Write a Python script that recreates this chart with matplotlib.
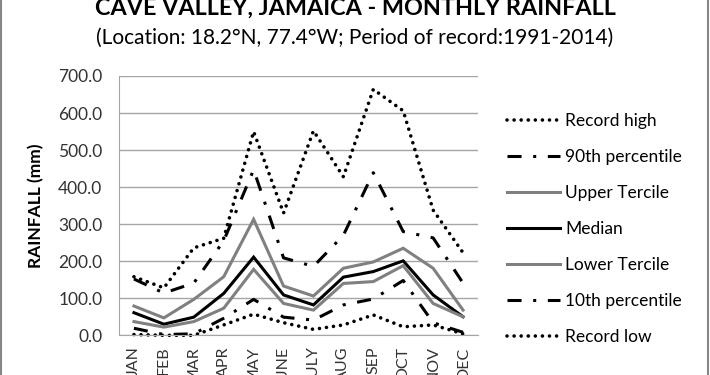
import matplotlib
matplotlib.use("Agg")
import matplotlib.pyplot as plt
from matplotlib.lines import Line2D

plt.rcParams['font.family'] = ['Lato', 'DejaVu Sans']

months = ["JAN", "FEB", "MAR", "APR", "MAY", "JUNE", "JULY", "AUG", "SEP", "OCT", "NOV", "DEC"]
record_high = [158, 128, 236, 262, 550, 330, 552, 428, 664, 606, 338, 223]
p90 = [152, 114, 141, 255, 447, 209, 186, 270, 439, 280, 263, 141]
upper_tercile = [79, 47, 97, 158, 313, 133, 106, 181, 198, 235, 181, 68]
median = [61, 30, 49, 113, 211, 109, 82, 157, 172, 201, 109, 50]
lower_tercile = [37, 22, 37, 73, 178, 86, 68, 140, 145, 188, 86, 50]
p10 = [19, 2, 4, 46, 97, 49, 41, 82, 98, 148, 34, 8]
record_low = [2, 0, 0, 28, 57, 34, 16, 28, 55, 23, 28, 4]
yticks = [0, 100, 200, 300, 400, 500, 600, 700]

W, H = 710, 375
fig = plt.figure(figsize=(W / 100, H / 100), dpi=100)
ax = fig.add_axes([119 / W, 1 - 335.3 / H, (478 - 119) / W, (335.3 - 76) / H])

gray = "#808080"
dotted = (0, (0.01, 1.95))
dashdot = (0, (4.6, 3.8, 1.0, 3.8))

series = [
    (record_high, "Record high", "black", dotted, "round", 2.6),
    (p90, "90th percentile", "black", dashdot, "butt", 2.2),
    (upper_tercile, "Upper Tercile", gray, "-", "butt", 2.2),
    (median, "Median", "black", "-", "butt", 2.2),
    (lower_tercile, "Lower Tercile", gray, "-", "butt", 2.2),
    (p10, "10th percentile", "black", dashdot, "butt", 2.2),
    (record_low, "Record low", "black", dotted, "round", 2.6),
]
x = list(range(len(months)))
handles = []
for vals, label, col, ls, cap, lw in series:
    ln, = ax.plot(x, vals, color=col, lw=lw, linestyle=ls, label=label,
                  dash_capstyle=cap, solid_joinstyle="miter", clip_on=False)
    handles.append(ln)

fs = 12.5
ax.set_xlim(-0.5, len(months) - 0.5)
ax.set_ylim(0, 700)
ax.set_yticks(yticks)
ax.set_yticklabels([f"{v:.1f}" for v in yticks], fontsize=fs, color="#333333")
ax.set_xticks(x)
ax.set_xticklabels(months, rotation=90, fontsize=11.5, color="#333333", va="top")
ax.tick_params(axis="y", length=0, pad=12)
ax.tick_params(axis="x", length=0, pad=8)
ax.yaxis.grid(True, color="#a6a6a6", lw=1)
ax.set_axisbelow(True)
for s in ["top", "right"]:
    ax.spines[s].set_visible(False)
ax.spines["left"].set_color("#a6a6a6")
ax.spines["bottom"].set_color("#a6a6a6")
ax.set_ylabel("RAINFALL (mm)", fontsize=fs, fontweight="bold", labelpad=10)

fig.legend(handles=handles, loc="upper left", bbox_to_anchor=(500 / W, 1 - 106 / H),
           frameon=False, fontsize=fs, handlelength=3.05, handletextpad=0.3,
           labelspacing=1.15, borderaxespad=0)

fig.text(0.5, 1 - 15 / H, "CAVE VALLEY, JAMAICA - MONTHLY RAINFALL", ha="center",
         va="baseline", fontsize=16.8, fontweight="bold")
fig.text(0.5, 1 - 43.5 / H, "(Location: 18.2°N, 77.4°W; Period of record:1991-2014)",
         ha="center", va="baseline", fontsize=15)

for xp in (1.5, 708):
    fig.add_artist(Line2D([xp / W, xp / W], [0, 1], color="#868686", lw=1.5,
                          transform=fig.transFigure))

fig.savefig("out.png", dpi=100)
